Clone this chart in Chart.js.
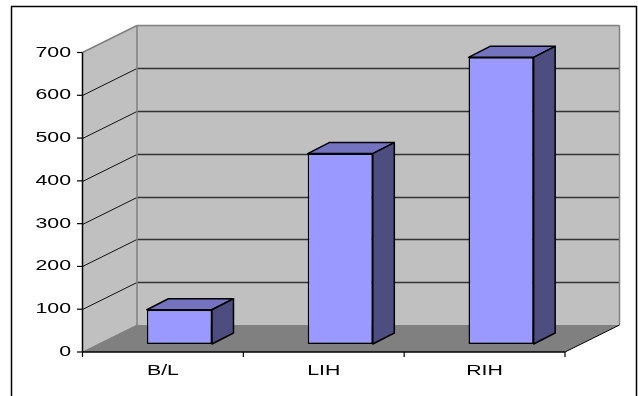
<!DOCTYPE html>
<html>
<head>
<meta charset="utf-8">
<style>html,body{margin:0;padding:0;background:#fff;overflow:hidden}canvas{display:block}</style>
<script src="https://cdn.jsdelivr.net/npm/chart.js@4"></script>
</head>
<body>
<canvas id="chart" width="638" height="396"></canvas>
<script>
// Inflammation scores per group, drawn as a pseudo-3D column chart
const categories = ['B/L', 'LIH', 'RIH'];
const seriesValues = [80, 445, 670];
const tickLabels = [0, 100, 200, 300, 400, 500, 600, 700];

// Depth of the box behind the front plane, and of each column
const WALL = {dx: 54.5, dy: -27};
const COLUMN = {dx: 21.5, dy: -11};
const SEAT = {dx: 16.5, dy: -8};
const TEXT_FONT = '14.5px "Liberation Sans"';
const TEXT_STRETCH = 1.47;

function poly(ctx, pts, fill, stroke, lw) {
  ctx.beginPath();
  pts.forEach((p, i) => i ? ctx.lineTo(p[0], p[1]) : ctx.moveTo(p[0], p[1]));
  ctx.closePath();
  if (fill) { ctx.fillStyle = fill; ctx.fill(); }
  if (stroke) { ctx.strokeStyle = stroke; ctx.lineWidth = lw || 1; ctx.stroke(); }
}
function line(ctx, x0, y0, x1, y1, color, lw) {
  ctx.beginPath();
  ctx.moveTo(x0, y0);
  ctx.lineTo(x1, y1);
  ctx.strokeStyle = color;
  ctx.lineWidth = lw || 1;
  ctx.stroke();
}
function wideText(ctx, text, x, y, align) {
  ctx.save();
  ctx.translate(x, y);
  ctx.scale(TEXT_STRETCH, 1);
  ctx.font = TEXT_FONT;
  ctx.fillStyle = '#000';
  ctx.textAlign = align;
  ctx.textBaseline = 'middle';
  ctx.fillText(text, 0, 0);
  ctx.restore();
}

const box3d = {
  id: 'box3d',
  beforeDatasetsDraw(chart) {
    const {ctx, chartArea: a, scales: {x, y}} = chart;
    const {dx, dy} = WALL;
    ctx.save();
    // outer frame
    line(ctx, 11.5, 396, 11.5, 6.5, '#000', 1.5);
    line(ctx, 11, 6.5, 636.5, 6.5, '#000', 1.5);
    line(ctx, 636.5, 6, 636.5, 396, '#000', 1.5);
    // walls and floor
    poly(ctx, [[a.left + dx, a.top + dy], [a.right + dx, a.top + dy], [a.right + dx, a.bottom + dy], [a.left + dx, a.bottom + dy]], '#c0c0c0');
    poly(ctx, [[a.left, a.top], [a.left + dx, a.top + dy], [a.left + dx, a.bottom + dy], [a.left, a.bottom]], '#c0c0c0');
    poly(ctx, [[a.left, a.bottom], [a.left + dx, a.bottom + dy], [a.right + dx, a.bottom + dy], [a.right, a.bottom]], '#808080');
    // gridlines wrap from the side wall across the back wall
    tickLabels.forEach(v => {
      if (v === 0 || v === 700) return;
      const py = Math.round(y.getPixelForValue(v)) + 0.5;
      line(ctx, a.left, py, a.left + dx, py + dy, '#111', 1);
      line(ctx, a.left + dx, py + dy, a.right + dx, py + dy, '#333', 1.4);
    });
    // wall edges
    line(ctx, a.left, a.top, a.left + dx, a.top + dy, '#808080', 1.5);
    line(ctx, a.left + dx, a.top + dy, a.right + dx, a.top + dy, '#808080', 1.5);
    line(ctx, a.left + dx, a.top + dy, a.left + dx, a.bottom + dy, '#808080', 1.5);
    line(ctx, a.right + dx, a.top + dy, a.right + dx, a.bottom + dy, '#808080', 1.5);
    line(ctx, a.left, a.bottom, a.left + dx, a.bottom + dy, '#808080', 1);
    line(ctx, a.right, a.bottom, a.right + dx, a.bottom + dy, '#000', 1);
    ctx.restore();
  },
  beforeDatasetDraw(chart, args) {
    const ctx = chart.ctx;
    ctx.save();
    ctx.translate(SEAT.dx, SEAT.dy);
    args.meta.data.forEach(bar => {
      const {x, y, base, width} = bar.getProps(['x', 'y', 'base', 'width'], true);
      const l = x - width / 2, r = x + width / 2;
      const {dx, dy} = COLUMN;
      ctx.lineJoin = 'round';
      poly(ctx, [[l, y], [l + dx, y + dy], [r + dx, y + dy], [r, y]], '#7373c0', '#000', 1.5);
      poly(ctx, [[r, y], [r + dx, y + dy], [r + dx, base + dy], [r, base]], '#4d4d80', '#000', 1.5);
    });
  },
  afterDatasetDraw(chart) {
    chart.ctx.restore();
  },
  afterDraw(chart) {
    const {ctx, chartArea: a, scales: {x, y}} = chart;
    ctx.save();
    // axis lines and tick marks
    line(ctx, a.left, a.top, a.left, a.bottom, '#000', 1.5);
    line(ctx, a.left, a.bottom, a.right, a.bottom, '#000', 1.5);
    tickLabels.forEach(v => {
      const py = y.getPixelForValue(v);
      line(ctx, a.left - 5.5, py, a.left, py, '#000', 1.2);
      wideText(ctx, String(v), a.left - 11.5, py, 'right');
    });
    categories.forEach((c, i) => {
      const cx = x.getPixelForValue(i);
      const half = (x.getPixelForValue(1) - x.getPixelForValue(0)) / 2;
      line(ctx, cx - half, a.bottom, cx - half, a.bottom + 5, '#000', 1.2);
      if (i === categories.length - 1) line(ctx, cx + half, a.bottom, cx + half, a.bottom + 5, '#000', 1.2);
      wideText(ctx, c, cx, a.bottom + 18.5, 'center');
    });
    ctx.restore();
  }
};

new Chart(document.getElementById('chart'), {
  type: 'bar',
  data: {
    labels: categories,
    datasets: [{
      data: seriesValues,
      backgroundColor: '#9999ff',
      borderColor: '#000',
      borderWidth: 1.5,
      borderSkipped: false,
      barPercentage: 0.405,
      categoryPercentage: 1,
      clip: false
    }]
  },
  options: {
    responsive: false,
    animation: false,
    events: [],
    layout: {padding: {left: 82.5, right: 73, top: 52.5, bottom: 44}},
    plugins: {legend: {display: false}, tooltip: {enabled: false}},
    scales: {
      x: {
        grid: {display: false, drawTicks: false},
        border: {display: false},
        ticks: {display: false}
      },
      y: {
        min: 0,
        max: 700,
        ticks: {display: false, stepSize: 100},
        grid: {display: false, drawTicks: false},
        border: {display: false}
      }
    }
  },
  plugins: [box3d]
});
</script>
</body>
</html>
